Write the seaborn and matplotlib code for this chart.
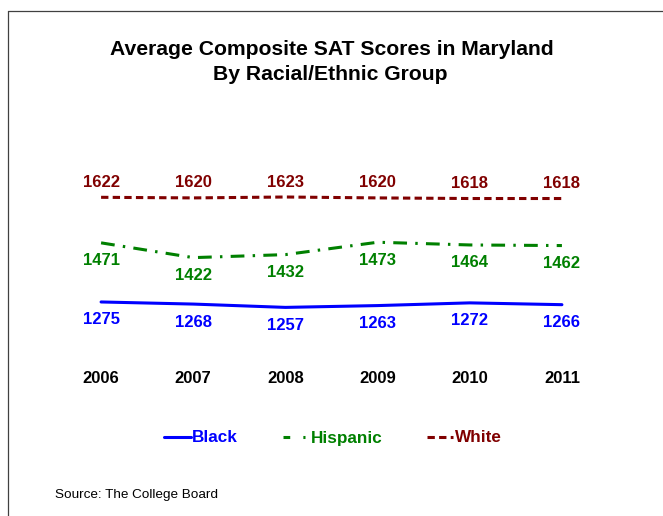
import matplotlib
matplotlib.use("Agg")
import matplotlib.pyplot as plt
import seaborn as sns
import pandas as pd
from matplotlib.lines import Line2D

years = [2006, 2007, 2008, 2009, 2010, 2011]
black = [1275, 1268, 1257, 1263, 1272, 1266]
hispanic = [1471, 1422, 1432, 1473, 1464, 1462]
white = [1622, 1620, 1623, 1620, 1618, 1618]
groups = ["Black", "Hispanic", "White"]
colors = {"Black": "#0000FF", "Hispanic": "#008000", "White": "#800000"}

sns.set_theme(style="white")
plt.rcParams["font.family"] = ["Liberation Sans", "DejaVu Sans"]
plt.rcParams["text.color"] = "black"

df = pd.DataFrame({
    "Year": years * 3,
    "Score": black + hispanic + white,
    "Group": ["Black"] * 6 + ["Hispanic"] * 6 + ["White"] * 6,
})

W, H = 663, 516
fig = plt.figure(figsize=(W / 100, H / 100), dpi=100)
ax = fig.add_axes([55 / W, (H - 365) / H, 553 / W, 225 / H])

dashes = {"Black": None, "Hispanic": (4.5, 2.7, 0.8, 2.7), "White": (2.4, 1.4)}
lw = 2.2
for g in groups:
    sub = df[df["Group"] == g]
    sns.lineplot(data=sub, x="Year", y="Score", ax=ax, color=colors[g],
                 linewidth=lw, label=g, legend=False)
    ln = ax.lines[-1]
    if dashes[g]:
        ln.set_dashes(dashes[g])

ax.set_xlim(2005.5, 2011.5)
ax.set_ylim(1066, 1812)

offsets = {"Black": -18, "Hispanic": -18, "White": 15}
for g, vals in zip(groups, [black, hispanic, white]):
    for x, v in zip(years, vals):
        ax.annotate(str(v), (x, v), xytext=(0, offsets[g]), textcoords="offset pixels",
                    ha="center", va="center", fontsize=12, fontweight="bold", color=colors[g])

ax.set_xticks(years)
ax.set_xticklabels([str(y) for y in years], fontsize=12, fontweight="bold", color="black")
ax.set_yticks([])
ax.tick_params(axis="x", length=0, pad=4)
ax.set_xlabel("")
ax.set_ylabel("")
for s in ax.spines.values():
    s.set_visible(False)
ax.patch.set_alpha(0)

fig.text(332 / W, 1 - 49.5 / H, "Average Composite SAT Scores in Maryland", ha="center", va="center",
         fontsize=15.2, fontweight="bold", color="black")
fig.text(330 / W, 1 - 74 / H, "By Racial/Ethnic Group", ha="center", va="center",
         fontsize=15.2, fontweight="bold", color="black")

handles = [Line2D([], [], color=colors[g], linewidth=lw) for g in groups]
handles[1].set_dashes((2.2, 4.3, 0.7, 2.5))
handles[2].set_dashes((2.4, 1.4))
leg = fig.legend(handles, groups, loc="center", bbox_to_anchor=(333 / W, 1 - 438 / H), ncol=3,
                 frameon=False, handlelength=1.55, handletextpad=0.1, columnspacing=2.6,
                 prop={"weight": "bold", "size": 12.3})
for t, g in zip(leg.get_texts(), groups):
    t.set_color(colors[g])

fig.text(55 / W, 1 - 495 / H, "Source: The College Board", ha="left", va="center", fontsize=9.7,
         color="black")

fig.add_artist(Line2D([8 / W, 8 / W], [0, 1 - 11 / H], color="#404040", linewidth=0.9))
fig.add_artist(Line2D([8 / W, 1], [1 - 11 / H, 1 - 11 / H], color="#404040", linewidth=0.9))

fig.savefig("out.png", dpi=100)
